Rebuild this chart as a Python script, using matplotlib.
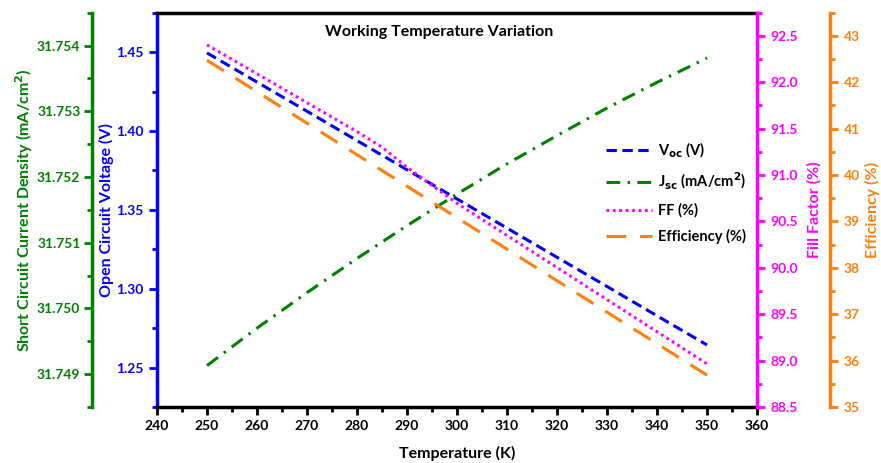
import matplotlib
matplotlib.use("Agg")
import matplotlib.pyplot as plt
from matplotlib.ticker import MultipleLocator, FormatStrFormatter

plt.rcParams['font.family'] = ['Lato', 'DejaVu Sans']
plt.rcParams['font.weight'] = 'bold'
plt.rcParams['mathtext.default'] = 'bf'

# data
temps = [250, 260, 270, 280, 290, 300, 310, 320, 330, 340, 350]
voc = [1.4495, 1.4310, 1.4125, 1.3939, 1.3754, 1.3569, 1.3384, 1.3199, 1.3014, 1.2828, 1.2643]
jsc = [31.74913, 31.74970, 31.75024, 31.75076, 31.75126, 31.75174,
       31.75220, 31.75263, 31.75305, 31.75344, 31.75381]
eff = [42.475, 41.796, 41.117, 40.438, 39.759, 39.080, 38.401, 37.722, 37.043, 36.364, 35.685]

temps_ff = [250, 255, 260, 265, 270, 275, 280, 285, 290, 295, 300,
            305, 310, 315, 320, 325, 330, 335, 340, 345, 350]
ff = [92.403, 92.247, 92.091, 91.936, 91.780, 91.624, 91.468, 91.300, 91.084, 90.889, 90.695,
      90.522, 90.349, 90.176, 90.003, 89.830, 89.657, 89.484, 89.311, 89.138, 88.965]

BLUE = '#0000ff'
GREEN = '#008000'
MAGENTA = '#ff00ff'
ORANGE = '#ff7f0e'

fig = plt.figure(figsize=(8.81, 4.63), dpi=100)
ax = fig.add_axes([0.1782, 0.1210, 0.6811, 0.8516])
ax_j = ax.twinx()
ax_ff = ax.twinx()
ax_eff = ax.twinx()

lw = 2.2
l1, = ax.plot(temps, voc, color=BLUE, lw=lw, dashes=(3.4, 1.8), label='V$_{oc}$ (V)')
l2, = ax_j.plot(temps, jsc, color=GREEN, lw=lw, dashes=(4.5, 2.4, 0.8, 2.4), label='J$_{sc}$ (mA/cm$^2$)')
l3, = ax_ff.plot(temps_ff, ff, color=MAGENTA, lw=lw, dashes=(0.9, 1.2), label='FF (%)')
l4, = ax_eff.plot(temps, eff, color=ORANGE, lw=lw, dashes=(6.5, 4.5), label='Efficiency (%)')

# x axis
ax.set_xlim(240, 360)
ax.xaxis.set_major_locator(MultipleLocator(10))
ax.xaxis.set_minor_locator(MultipleLocator(5))
ax.set_xlabel('Temperature (K)', fontsize=11.5, fontweight='bold', labelpad=10)
ax.tick_params(axis='x', which='major', length=6, width=2, labelsize=10)
ax.tick_params(axis='x', which='minor', length=3.5, width=2)

# spines
for a in (ax, ax_j, ax_ff, ax_eff):
    for s in a.spines.values():
        s.set_visible(False)
ax.spines['top'].set_visible(True)
ax.spines['bottom'].set_visible(True)
ax.spines['top'].set_linewidth(2.5)
ax.spines['bottom'].set_linewidth(2.5)
ax.spines['left'].set_visible(True)
ax.spines['left'].set_color(BLUE)
ax.spines['left'].set_linewidth(2.5)

# Voc axis (blue, left)
ax.set_ylim(1.225, 1.475)
ax.yaxis.set_major_locator(MultipleLocator(0.05))
ax.yaxis.set_minor_locator(MultipleLocator(0.025))
ax.yaxis.set_major_formatter(FormatStrFormatter('%.2f'))
ax.tick_params(axis='y', which='both', colors=BLUE, width=2, labelsize=10)
ax.tick_params(axis='y', which='major', length=6)
ax.tick_params(axis='y', which='minor', length=3.5)
ax.set_ylabel('Open Circuit Voltage (V)', color=BLUE, fontsize=11.5, fontweight='bold', labelpad=2)

# Jsc axis (green, outer left)
ax_j.set_ylim(31.7485, 31.7545)
ax_j.yaxis.set_ticks_position('left')
ax_j.yaxis.set_label_position('left')
ax_j.spines['left'].set_visible(True)
ax_j.spines['left'].set_position(('axes', -0.108))
ax_j.spines['left'].set_color(GREEN)
ax_j.spines['left'].set_linewidth(2.5)
ax_j.yaxis.set_major_locator(MultipleLocator(0.001))
ax_j.yaxis.set_minor_locator(MultipleLocator(0.0005))
ax_j.yaxis.set_major_formatter(FormatStrFormatter('%.3f'))
ax_j.tick_params(axis='y', which='both', colors=GREEN, width=2, labelsize=10, pad=2.5)
ax_j.tick_params(axis='y', which='major', length=6)
ax_j.tick_params(axis='y', which='minor', length=3.5)
ax_j.set_ylabel('Short Circuit Current Density (mA/cm$^2$)', color=GREEN,
                fontsize=11.5, fontweight='bold', labelpad=1)

# FF axis (magenta, right)
ax_ff.set_ylim(88.5, 92.75)
ax_ff.spines['right'].set_visible(True)
ax_ff.spines['right'].set_color(MAGENTA)
ax_ff.spines['right'].set_linewidth(2.5)
ax_ff.yaxis.set_major_locator(MultipleLocator(0.5))
ax_ff.yaxis.set_minor_locator(MultipleLocator(0.25))
ax_ff.yaxis.set_major_formatter(FormatStrFormatter('%.1f'))
ax_ff.tick_params(axis='y', which='both', colors=MAGENTA, width=2, labelsize=10)
ax_ff.tick_params(axis='y', which='major', length=6)
ax_ff.tick_params(axis='y', which='minor', length=3.5)
ax_ff.set_ylabel('Fill Factor (%)', color=MAGENTA, fontsize=11.5, fontweight='bold', labelpad=7)

# Efficiency axis (orange, outer right)
ax_eff.set_ylim(35, 43.5)
ax_eff.spines['right'].set_visible(True)
ax_eff.spines['right'].set_position(('axes', 1.122))
ax_eff.spines['right'].set_color(ORANGE)
ax_eff.spines['right'].set_linewidth(2.5)
ax_eff.yaxis.set_major_locator(MultipleLocator(1))
ax_eff.yaxis.set_minor_locator(MultipleLocator(0.5))
ax_eff.yaxis.set_major_formatter(FormatStrFormatter('%d'))
ax_eff.tick_params(axis='y', which='both', colors=ORANGE, width=2, labelsize=10)
ax_eff.tick_params(axis='y', which='major', length=6)
ax_eff.tick_params(axis='y', which='minor', length=3.5)
ax_eff.set_ylabel('Efficiency (%)', color=ORANGE, fontsize=11.5, fontweight='bold', labelpad=4)

for a in (ax, ax_j, ax_ff, ax_eff):
    for t in a.get_xticklabels() + a.get_yticklabels():
        t.set_fontweight('bold')

ax_eff.text(0.47, 0.95, 'Working Temperature Variation', transform=ax.transAxes,
            ha='center', va='center', fontsize=11.5, fontweight='bold')

ax_eff.legend(handles=[l1, l2, l3, l4], loc='upper left', bbox_to_anchor=(0.738, 0.69),
              frameon=False, handlelength=3.2, labelspacing=0.75,
              handletextpad=0.4, borderaxespad=0, prop={'weight': 'bold', 'size': 10.5})

fig.savefig('out.png', dpi=100)
